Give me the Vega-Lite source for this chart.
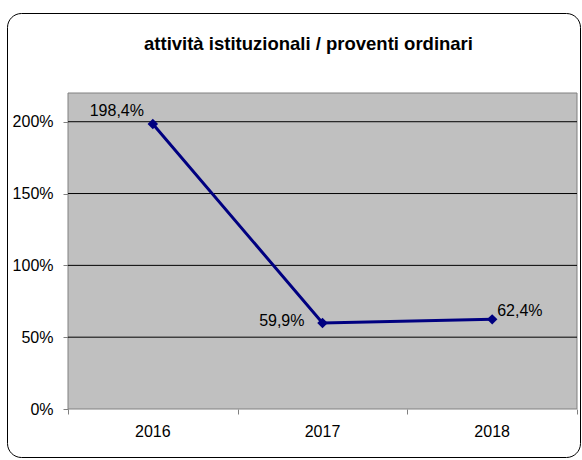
{
  "$schema": "https://vega.github.io/schema/vega-lite/v6.json",
  "width": 573,
  "height": 444,
  "autosize": {"type": "none"},
  "padding": {"left": 7, "top": 13, "right": 2, "bottom": 3},
  "background": "white",
  "title": {
    "text": "attività istituzionali / proventi ordinari",
    "font": "Liberation Sans",
    "fontSize": 18.5,
    "fontWeight": "bold",
    "color": "black",
    "anchor": "middle",
    "baseline": "alphabetic",
    "offset": -55,
    "dx": 15
  },
  "config": {
    "locale": {"number": {"decimal": ",", "thousands": ".", "grouping": [3], "currency": ["", " €"]}},
    "view": {"fill": "white", "stroke": "black", "strokeWidth": 1, "cornerRadius": 14},
    "axis": {
      "labelFont": "Liberation Sans",
      "labelFontSize": 16,
      "labelColor": "black",
      "tickColor": "#808080",
      "tickSize": 5,
      "domain": false,
      "grid": false,
      "title": null
    },
    "text": {"font": "Liberation Sans", "fontSize": 16, "color": "black"}
  },
  "data": {
    "values": [
      {"year": 2016, "value": 1.984},
      {"year": 2017, "value": 0.599},
      {"year": 2018, "value": 0.624}
    ]
  },
  "layer": [
    {
      "data": {"values": [{}]},
      "mark": {"type": "rect", "fill": "#c0c0c0", "stroke": "#808080", "strokeWidth": 1},
      "encoding": {
        "x": {
          "datum": 2015.5, "type": "quantitative",
          "scale": {"domain": [2015.5, 2018.5], "range": [61, 570], "nice": false, "zero": false},
          "axis": {"values": [2015.5, 2016.5, 2017.5, 2018.5], "labels": false, "offset": -48}
        },
        "x2": {"datum": 2018.5},
        "y": {
          "datum": 0, "type": "quantitative",
          "scale": {"domain": [0, 2.2], "range": [396, 80], "nice": false, "zero": false},
          "axis": {"values": [0, 0.5, 1, 1.5, 2], "format": ".0%", "offset": -61, "labelPadding": 10}
        },
        "y2": {"datum": 2.2}
      }
    },
    {
      "data": {"values": [{"g": 0.5}, {"g": 1}, {"g": 1.5}, {"g": 2}]},
      "mark": {"type": "rule", "color": "black", "strokeWidth": 1},
      "encoding": {
        "x": {"datum": 2015.5, "type": "quantitative"},
        "x2": {"datum": 2018.5},
        "y": {"field": "g", "type": "quantitative"}
      }
    },
    {
      "mark": {"type": "line", "color": "#000080", "strokeWidth": 3},
      "encoding": {
        "x": {"field": "year", "type": "quantitative"},
        "y": {"field": "value", "type": "quantitative"}
      }
    },
    {
      "mark": {"type": "point", "shape": "diamond", "filled": true, "color": "#000080", "size": 110, "opacity": 1},
      "encoding": {
        "x": {"field": "year", "type": "quantitative"},
        "y": {"field": "value", "type": "quantitative"}
      }
    },
    {
      "transform": [{"filter": "datum.year == 2016"}],
      "mark": {"type": "text", "align": "center", "baseline": "middle", "dx": -36, "dy": -13},
      "encoding": {
        "x": {"field": "year", "type": "quantitative"},
        "y": {"field": "value", "type": "quantitative"},
        "text": {"field": "value", "type": "quantitative", "format": ".1%"}
      }
    },
    {
      "transform": [{"filter": "datum.year == 2017"}],
      "mark": {"type": "text", "align": "right", "baseline": "middle", "dx": -18, "dy": -2},
      "encoding": {
        "x": {"field": "year", "type": "quantitative"},
        "y": {"field": "value", "type": "quantitative"},
        "text": {"field": "value", "type": "quantitative", "format": ".1%"}
      }
    },
    {
      "transform": [{"filter": "datum.year == 2018"}],
      "mark": {"type": "text", "align": "left", "baseline": "middle", "dx": 5, "dy": -8},
      "encoding": {
        "x": {"field": "year", "type": "quantitative"},
        "y": {"field": "value", "type": "quantitative"},
        "text": {"field": "value", "type": "quantitative", "format": ".1%"}
      }
    },
    {
      "mark": {"type": "text", "align": "center", "baseline": "middle", "dy": 23},
      "encoding": {
        "x": {"field": "year", "type": "quantitative"},
        "y": {"datum": 0, "type": "quantitative"},
        "text": {"field": "year", "type": "quantitative", "format": "d"}
      }
    }
  ]
}
